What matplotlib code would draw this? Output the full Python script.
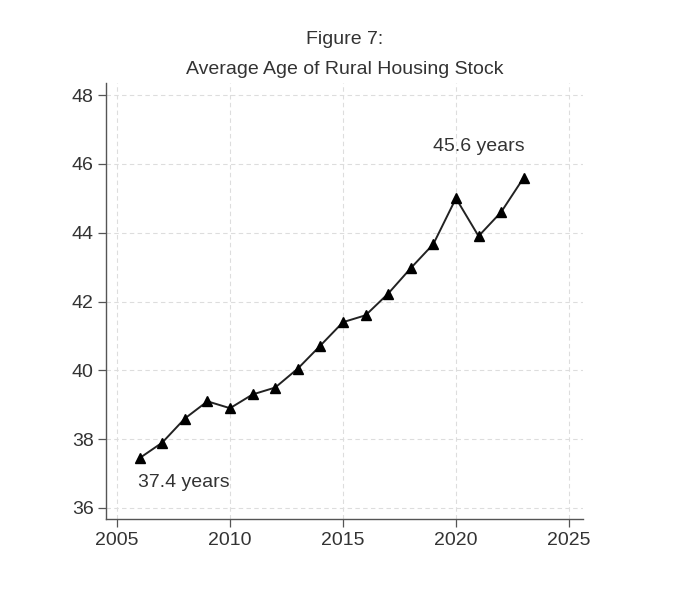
import matplotlib
matplotlib.use("Agg")
import matplotlib.pyplot as plt

years = [2006, 2007, 2008, 2009, 2010, 2011, 2012, 2013, 2014, 2015, 2016, 2017,
         2018, 2019, 2020, 2021, 2022, 2023]
avg_age = [37.45, 37.9, 38.6, 39.1, 38.9, 39.3, 39.5, 40.05, 40.72, 41.4, 41.6, 42.23,
           42.97, 43.67, 45.0, 43.9, 44.6, 45.6]
xticks = [2005, 2010, 2015, 2020, 2025]
yticks = [36, 38, 40, 42, 44, 46, 48]
title_lines = ["Figure 7:", "Average Age of Rural Housing Stock"]
labels = [(2006, "37.4 years"), (2023, "45.6 years")]

plt.rcParams['font.family'] = ['Liberation Sans', 'DejaVu Sans']
fig = plt.figure(figsize=(6.78, 5.98), dpi=100)
ax = fig.add_axes([0.1563, 0.1321, 0.7035, 0.7291])

ax.plot(years, avg_age, color='#222222', lw=1.4, marker='^', markersize=7,
        markerfacecolor='black', markeredgecolor='black')

ax.set_xlim(2004.51, 2025.62)
ax.set_ylim(35.68, 48.35)
ax.set_xticks(xticks)
ax.set_yticks(yticks)
ax.tick_params(axis='both', labelsize=14, length=6, width=0.9, color='#555555',
               labelcolor='#333333', pad=3)
ax.grid(True, color='#dddddd', linestyle=(0, (4, 3)), linewidth=0.8)
for s in ['top', 'right']:
    ax.spines[s].set_visible(False)
for s in ['left', 'bottom']:
    ax.spines[s].set_color('#555555')
    ax.spines[s].set_linewidth(1.0)

# annotations
ax.text(labels[0][0] - 0.07, avg_age[0] - 0.7, labels[0][1], fontsize=14,
        color='#333333', ha='left', va='center')
ax.text(labels[1][0] - 4.03, avg_age[-1] + 0.9, labels[1][1], fontsize=14,
        color='#333333', ha='left', va='center')

cx = ax.get_position().x0 + ax.get_position().width / 2
fig.text(cx, 1 - 40 / 598, title_lines[0], fontsize=14, color='#333333',
         ha='center', va='center')
fig.text(cx, 1 - 70 / 598, title_lines[1], fontsize=14, color='#333333',
         ha='center', va='center')

fig.savefig("out.png", dpi=100, facecolor='white')
